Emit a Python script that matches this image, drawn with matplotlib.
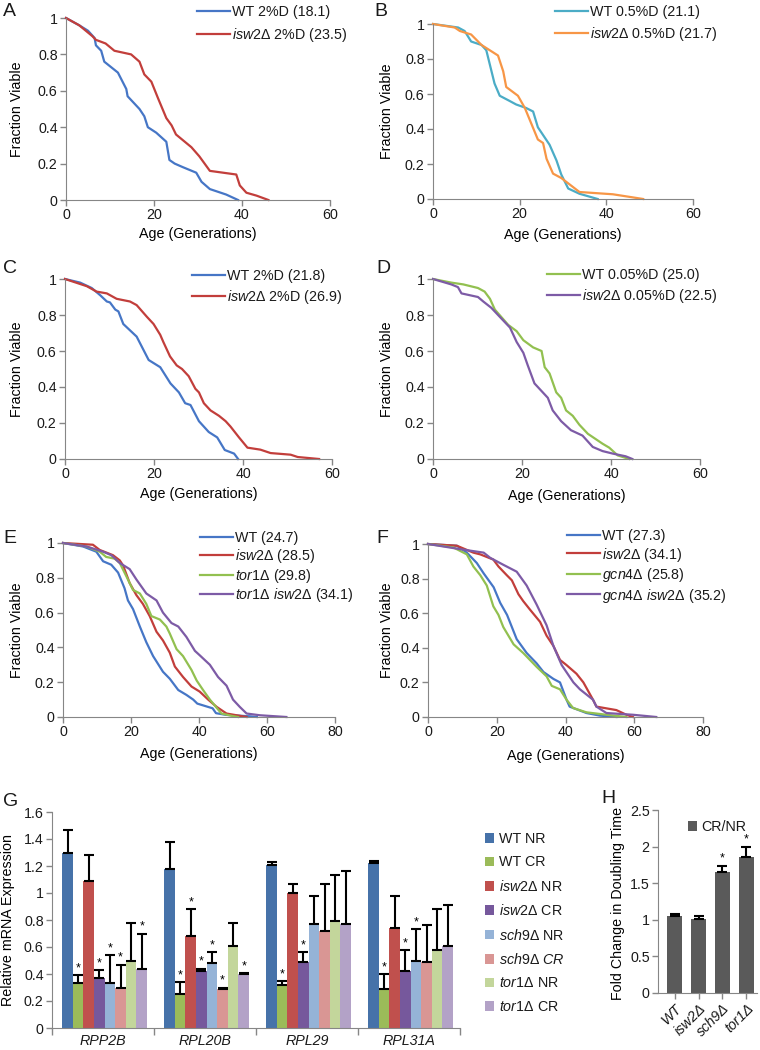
import matplotlib
matplotlib.use('Agg')
import matplotlib.pyplot as plt
from matplotlib.ticker import FuncFormatter

W, H = 760, 1050

# ---- A: 2% glucose ----
a_wt_age = [0, 3, 5, 6.5, 6.8, 8, 8.7, 11.8, 13.7, 14, 16.7, 17.8, 18.6, 20.5, 22.8, 23.5, 24.7, 26.6, 29.6, 30.8, 32.7, 36.4, 39.1]
a_wt_frac = [1, 0.96, 0.93, 0.89, 0.85, 0.82, 0.76, 0.70, 0.61, 0.57, 0.50, 0.46, 0.40, 0.37, 0.32, 0.22, 0.20, 0.18, 0.15, 0.10, 0.06, 0.03, 0]
a_isw2_age = [0, 3, 6, 6.8, 9, 11, 14.8, 16.7, 17.8, 19.4, 20.9, 22.8, 24, 25, 28.5, 30.3, 32.7, 35.7, 38.7, 39.5, 41, 43.3, 46]
a_isw2_frac = [1, 0.96, 0.90, 0.88, 0.86, 0.82, 0.80, 0.76, 0.69, 0.65, 0.56, 0.45, 0.41, 0.36, 0.29, 0.24, 0.16, 0.15, 0.14, 0.08, 0.04, 0.024, 0]

# ---- B: 0.5% glucose ----
b_wt_age = [0, 5.8, 7.3, 8.8, 11.2, 12.3, 13.1, 14.2, 15.4, 17.7, 19.2, 21.5, 23.1, 24.2, 26.9, 28.5, 29.6, 31.2, 33.8, 38]
b_wt_frac = [1, 0.98, 0.96, 0.90, 0.88, 0.85, 0.77, 0.66, 0.59, 0.56, 0.54, 0.52, 0.50, 0.41, 0.31, 0.22, 0.14, 0.06, 0.03, 0]
b_isw2_age = [0, 5, 6.2, 8.8, 10, 11.2, 15, 16.2, 16.9, 19.6, 21.2, 22.7, 24.2, 25.4, 26.2, 27.7, 29.6, 33.8, 41.5, 48.5]
b_isw2_frac = [1, 0.98, 0.96, 0.94, 0.91, 0.88, 0.82, 0.73, 0.64, 0.59, 0.52, 0.43, 0.34, 0.32, 0.23, 0.145, 0.12, 0.04, 0.027, 0]

# ---- C: 2% glucose (repeat) ----
c_wt_age = [0, 3.4, 6, 7.9, 9.4, 10.1, 11.3, 12, 13.1, 16.1, 18.8, 21.4, 23.7, 25.6, 27, 28.2, 30.1, 32.3, 34.2, 35.9, 38, 38.9]
c_wt_frac = [1, 0.98, 0.95, 0.91, 0.875, 0.87, 0.83, 0.82, 0.75, 0.68, 0.55, 0.51, 0.42, 0.37, 0.31, 0.30, 0.21, 0.15, 0.12, 0.05, 0.03, 0]
c_isw2_age = [0, 4.9, 7.1, 9.4, 11.6, 14.6, 16.1, 18.4, 19.9, 21.4, 22.1, 23.6, 25.1, 26.3, 27.8, 29.3, 30.1, 31.2, 32.7, 34.6,
              36.1, 37.2, 39.1, 41, 43.9, 46.2, 50.7, 52.3, 57.1]
c_isw2_frac = [1, 0.96, 0.93, 0.92, 0.89, 0.875, 0.855, 0.79, 0.75, 0.69, 0.65, 0.57, 0.52, 0.50, 0.46, 0.39, 0.37, 0.31, 0.27, 0.24,
               0.21, 0.18, 0.12, 0.063, 0.052, 0.033, 0.024, 0.011, 0]

# ---- D: 0.05% glucose ----
d_wt_age = [0, 4.1, 6.8, 10.1, 11.6, 12.8, 13.9, 16.9, 18.8, 20.3, 22.5, 24.4, 25.1, 26.2, 27.7, 28.8, 29.9, 31.4, 32.9, 34.8,
            36.6, 38.1, 39.6, 41.5, 44.1]
d_wt_frac = [1, 0.98, 0.97, 0.95, 0.93, 0.89, 0.83, 0.745, 0.71, 0.66, 0.62, 0.60, 0.51, 0.475, 0.37, 0.34, 0.27, 0.24, 0.19, 0.14,
             0.11, 0.085, 0.063, 0.02, 0]
d_isw2_age = [0, 4.1, 5.6, 6.4, 10.1, 11.3, 13.1, 15, 17.3, 18.8, 20.3, 21.3, 22.8, 24.3, 25.8, 26.9, 28.8, 31, 33.6, 35.9,
              38.1, 40.4, 43.3, 44.8]
d_isw2_frac = [1, 0.97, 0.955, 0.92, 0.90, 0.875, 0.84, 0.79, 0.73, 0.65, 0.59, 0.52, 0.42, 0.38, 0.34, 0.27, 0.21, 0.16, 0.13, 0.067,
               0.044, 0.03, 0.015, 0]

# ---- E: tor1 ----
e_wt_age = [0, 5.9, 9.8, 11.8, 14.2, 16.2, 18.1, 19.1, 20.6, 22.6, 24.5, 26.5, 29.4, 31.4, 33.9, 36.3, 38.3, 39.5, 44, 45, 48, 55, 57]
e_wt_frac = [1, 0.98, 0.95, 0.895, 0.875, 0.83, 0.74, 0.67, 0.62, 0.52, 0.43, 0.35, 0.26, 0.22, 0.155, 0.127, 0.10, 0.077, 0.05, 0.022, 0.012, 0.004, 0]
e_isw2_age = [0, 8.8, 10.8, 14.7, 16.7, 17.7, 19.6, 21.6, 23.5, 25.5, 27.5, 29.4, 31.4, 32.9, 35.3, 37.8, 40.2, 42.7, 45.2, 48.1, 54]
e_isw2_frac = [1, 0.99, 0.96, 0.93, 0.90, 0.87, 0.77, 0.70, 0.65, 0.58, 0.49, 0.44, 0.37, 0.29, 0.23, 0.175, 0.146, 0.10, 0.058, 0.02, 0]
e_tor1_age = [0, 6.9, 10.8, 12.7, 15.2, 16.7, 18.6, 20.6, 22.6, 24.5, 26, 28.5, 30.4, 31.4, 33.4, 35.3, 37.8, 39.3, 41.2, 43.2, 46.6, 50, 51.5]
e_tor1_frac = [1, 0.98, 0.95, 0.92, 0.91, 0.885, 0.81, 0.73, 0.71, 0.65, 0.58, 0.56, 0.52, 0.48, 0.39, 0.35, 0.27, 0.21, 0.155, 0.10, 0.02, 0.005, 0]
e_dbl_age = [0, 6.9, 11.8, 14.2, 16.7, 19.6, 21.6, 24.5, 27.5, 29.4, 31.9, 33.9, 36.3, 38.8, 40.2, 43.2, 45.6, 48.1, 50, 52, 54, 57.9, 65.7]
e_dbl_frac = [1, 0.98, 0.95, 0.93, 0.885, 0.85, 0.79, 0.71, 0.67, 0.60, 0.54, 0.52, 0.46, 0.38, 0.355, 0.30, 0.23, 0.18, 0.10, 0.058, 0.02, 0.01, 0]

# ---- F: gcn4 ----
f_wt_age = [0, 8.4, 11.3, 14.2, 16.2, 19.1, 21, 23, 24.4, 25.8, 28.7, 31.6, 33.6, 36.5, 38.4, 40.3, 41.2, 46.1, 50, 54.8]
f_wt_frac = [1, 0.99, 0.95, 0.89, 0.83, 0.75, 0.66, 0.59, 0.52, 0.45, 0.37, 0.31, 0.26, 0.22, 0.20, 0.10, 0.06, 0.023, 0.008, 0]
f_isw2_age = [0, 8.4, 13.2, 15.2, 19, 20.5, 22.9, 24.4, 26.3, 27.7, 29.7, 32.6, 34.5, 36.5, 38.4, 40.3, 43.2, 45.2, 48, 49, 54.8, 57.7, 59.6]
f_isw2_frac = [1, 0.99, 0.95, 0.94, 0.91, 0.87, 0.82, 0.79, 0.71, 0.67, 0.62, 0.55, 0.47, 0.41, 0.33, 0.30, 0.25, 0.20, 0.10, 0.06, 0.04, 0.013, 0]
f_gcn4_age = [0, 7.4, 11.3, 13.2, 15.2, 17.1, 19, 20.5, 21.9, 24.9, 27.7, 31.6, 34.5, 36, 38.4, 40.3, 42.2, 46.1, 51.9, 57.7]
f_gcn4_frac = [1, 0.98, 0.94, 0.87, 0.82, 0.76, 0.64, 0.59, 0.52, 0.42, 0.37, 0.29, 0.235, 0.18, 0.16, 0.10, 0.052, 0.027, 0.013, 0]
f_dbl_age = [0, 9.4, 16.2, 18.1, 21.9, 25.8, 28.7, 31.6, 34.5, 36.5, 38.9, 42.3, 44.2, 48, 49, 51.9, 59.6, 66.4]
f_dbl_frac = [1, 0.97, 0.95, 0.92, 0.88, 0.84, 0.76, 0.65, 0.53, 0.41, 0.30, 0.20, 0.16, 0.10, 0.06, 0.023, 0.013, 0]

# ---- G: RP gene mRNA, rows = strain/condition, columns = genes ----
genes = ['RPP2B', 'RPL20B', 'RPL29', 'RPL31A']
expr_labels = ['WT NR', 'WT CR', r'$\mathit{isw2}$Δ NR', r'$\mathit{isw2}$Δ CR',
               r'$\mathit{sch9}$Δ NR', r'$\mathit{sch9}$Δ $\mathit{CR}$', r'$\mathit{tor1}$Δ NR', r'$\mathit{tor1}$Δ CR']
expr_vals = [
    [1.30, 1.18, 1.21, 1.22],
    [0.33, 0.25, 0.32, 0.29],
    [1.09, 0.68, 1.00, 0.74],
    [0.37, 0.42, 0.49, 0.42],
    [0.33, 0.48, 0.77, 0.50],
    [0.30, 0.29, 0.72, 0.49],
    [0.50, 0.61, 0.79, 0.58],
    [0.44, 0.40, 0.77, 0.61],
]
expr_err = [
    [0.17, 0.20, 0.02, 0.02],
    [0.06, 0.09, 0.03, 0.11],
    [0.19, 0.20, 0.07, 0.24],
    [0.06, 0.02, 0.07, 0.16],
    [0.21, 0.08, 0.21, 0.23],
    [0.17, 0.01, 0.35, 0.27],
    [0.28, 0.17, 0.34, 0.30],
    [0.26, 0.01, 0.39, 0.30],
]
expr_sig = [
    [0, 0, 0, 0],
    [1, 1, 1, 1],
    [0, 1, 0, 0],
    [1, 1, 1, 1],
    [1, 1, 0, 1],
    [1, 1, 0, 0],
    [0, 0, 0, 0],
    [1, 1, 0, 0],
]

# ---- H: doubling time CR/NR ----
dbl_strains = ['WT', 'isw2Δ', 'sch9Δ', 'tor1Δ']
dbl_fold = [1.05, 1.01, 1.65, 1.86]
dbl_err = [0.03, 0.04, 0.09, 0.14]
dbl_sig = [0, 0, 1, 1]

BLUE, RED = '#4676C6', '#C23E3B'
TEAL, ORANGE = '#4BACC6', '#F79646'
GREEN, PURPLE = '#92C050', '#7D5BA6'
G_COLORS = ['#4672A9', '#9BBB59', '#C0504D', '#76589C', '#95B3D7', '#D99694', '#C3D69B', '#B3A2C7']
AXIS_GREY = '#868686'
FS = 10.3


def apply_excel_style():
    plt.rcParams['font.family'] = ['Liberation Sans', 'DejaVu Sans']
    plt.rcParams['mathtext.fontset'] = 'custom'
    plt.rcParams['mathtext.rm'] = 'Liberation Sans'
    plt.rcParams['mathtext.it'] = 'Liberation Sans:italic'
    plt.rcParams['font.size'] = FS
    plt.rcParams['text.color'] = '#1a1a1a'
    plt.rcParams['xtick.color'] = AXIS_GREY
    plt.rcParams['ytick.color'] = AXIS_GREY
    plt.rcParams['xtick.labelcolor'] = '#1a1a1a'
    plt.rcParams['ytick.labelcolor'] = '#1a1a1a'


def add_axes(fig, left, top, right, bottom):
    return fig.add_axes([left / W, 1 - bottom / H, (right - left) / W, (bottom - top) / H])


def px_to_axes(ax, xp, yp):
    l, b, w, h = ax.get_position().bounds
    return (xp / W - l) / w, ((1 - yp / H) - b) / h


def style_axes(ax):
    ax.spines['top'].set_visible(False)
    ax.spines['right'].set_visible(False)
    ax.spines['left'].set_color(AXIS_GREY)
    ax.spines['bottom'].set_color(AXIS_GREY)
    ax.tick_params(direction='out', length=4, width=1, labelsize=FS, pad=2)
    ax.yaxis.set_major_formatter(FuncFormatter(lambda v, p: f'{v:g}'))


def survival_panel(fig, box, curves, xmax, leg_x, leg_y, leg_gap, xlabel_y, ylabel_x):
    ax = add_axes(fig, *box)
    for age, frac, color, label in curves:
        ax.plot(age, frac, color=color, lw=1.6, label=label, clip_on=False, solid_joinstyle='round')
    ax.set_xlim(0, xmax)
    ax.set_ylim(0, 1)
    ax.set_xticks(range(0, xmax + 1, 20))
    ax.set_yticks([0, 0.2, 0.4, 0.6, 0.8, 1])
    style_axes(ax)
    ax.set_xlabel('Age (Generations)', fontsize=FS)
    ax.set_ylabel('Fraction Viable', fontsize=FS)
    ax.xaxis.set_label_coords(*px_to_axes(ax, (box[0] + box[2]) / 2, xlabel_y - 8))
    ax.yaxis.set_label_coords(*px_to_axes(ax, ylabel_x + 7, (box[1] + box[3]) / 2))
    ax.legend(loc='upper left', bbox_to_anchor=(leg_x / W, 1 - (leg_y - 8) / H),
              bbox_transform=fig.transFigure, frameon=False, borderpad=0, borderaxespad=0,
              handlelength=2.3, handletextpad=0.15, labelspacing=(leg_gap - 16) / 14.3, fontsize=FS)
    return ax


def plot_expression(fig):
    ax = add_axes(fig, 52, 812, 460, 1028)
    n = len(expr_vals)
    width = 0.104
    for i in range(n):
        xs = [g + 0.1 + (i + 0.5) * width for g in range(len(genes))]
        ax.bar(xs, expr_vals[i], width=width, color=G_COLORS[i], edgecolor='none', label=expr_labels[i], zorder=2)
        ax.errorbar(xs, expr_vals[i], yerr=[[0] * len(genes), expr_err[i]], fmt='none',
                    ecolor='black', elinewidth=1.5, capsize=3.6, capthick=1.5, zorder=3)
        for x, v, e, s in zip(xs, expr_vals[i], expr_err[i], expr_sig[i]):
            if s:
                ax.text(x, v + e + 0.005, '*', ha='center', va='bottom', fontsize=9, color='black')
    ax.set_xlim(0, len(genes))
    ax.set_ylim(0, 1.6)
    ax.set_yticks([0, 0.2, 0.4, 0.6, 0.8, 1, 1.2, 1.4, 1.6])
    ax.set_xticks(range(len(genes) + 1))
    ax.set_xticklabels([])
    ax.set_xticks([g + 0.5 for g in range(len(genes))], minor=True)
    ax.set_xticklabels(genes, minor=True, fontstyle='italic', fontsize=FS)
    style_axes(ax)
    ax.tick_params(axis='x', which='minor', length=0, pad=4)
    ax.tick_params(axis='x', which='major', length=5)
    ax.set_ylabel('Relative mRNA Expression', fontsize=FS)
    ax.yaxis.set_label_coords(*px_to_axes(ax, 15, 920))
    ax.legend(loc='upper left', bbox_to_anchor=(485 / W, 1 - (840 - 8) / H),
              bbox_transform=fig.transFigure, frameon=False, borderpad=0, borderaxespad=0,
              handlelength=0.65, handleheight=0.65, handletextpad=0.3,
              labelspacing=(25.4 - 16) / 14.3, fontsize=FS)


def plot_doubling(fig):
    ax = add_axes(fig, 658, 810, 757, 993)
    xs = list(range(len(dbl_strains)))
    ax.bar(xs, dbl_fold, width=0.62, color='#5A5A5A', edgecolor='none', label='CR/NR', zorder=2)
    ax.errorbar(xs, dbl_fold, yerr=[[0] * len(xs), dbl_err], fmt='none', ecolor='black',
                elinewidth=1.5, capsize=3.6, capthick=1.5, zorder=3)
    for x, v, e, s in zip(xs, dbl_fold, dbl_err, dbl_sig):
        if s:
            ax.text(x, v + e + 0.01, '*', ha='center', va='bottom', fontsize=9, color='black')
    ax.set_xlim(-0.7, 3.45)
    ax.set_ylim(0, 2.5)
    ax.set_yticks([0, 0.5, 1, 1.5, 2, 2.5])
    ax.set_xticks(xs)
    ax.set_xticklabels(dbl_strains, rotation=45, ha='right', rotation_mode='anchor',
                       fontstyle='italic', fontsize=FS)
    style_axes(ax)
    ax.set_ylabel('Fold Change in Doubling Time', fontsize=FS)
    ax.yaxis.set_label_coords(*px_to_axes(ax, 625, 903))
    ax.legend(loc='upper left', bbox_to_anchor=(688 / W, 1 - (828 - 8) / H),
              bbox_transform=fig.transFigure, frameon=False, borderpad=0, borderaxespad=0,
              handlelength=0.65, handleheight=0.65, handletextpad=0.3, fontsize=FS)


apply_excel_style()
fig = plt.figure(figsize=(W / 100, H / 100), dpi=100)

survival_panel(fig, (66, 18, 330, 200),
               [(a_wt_age, a_wt_frac, BLUE, 'WT 2%D (18.1)'),
                (a_isw2_age, a_isw2_frac, RED, r'$\mathit{isw2}$Δ 2%D (23.5)')],
               60, 197, 13, 23, 235, 17)
survival_panel(fig, (433, 24, 693, 199),
               [(b_wt_age, b_wt_frac, TEAL, 'WT 0.5%D (21.1)'),
                (b_isw2_age, b_isw2_frac, ORANGE, r'$\mathit{isw2}$Δ 0.5%D (21.7)')],
               60, 555, 13, 22, 236, 387)
survival_panel(fig, (65, 279, 332, 459),
               [(c_wt_age, c_wt_frac, BLUE, 'WT 2%D (21.8)'),
                (c_isw2_age, c_isw2_frac, RED, r'$\mathit{isw2}$Δ 2%D (26.9)')],
               60, 192, 277, 21, 495, 17)
survival_panel(fig, (433, 279, 700, 459),
               [(d_wt_age, d_wt_frac, GREEN, 'WT 0.05%D (25.0)'),
                (d_isw2_age, d_isw2_frac, PURPLE, r'$\mathit{isw2}$Δ 0.05%D (22.5)')],
               60, 547, 276, 21, 497, 387)
survival_panel(fig, (63, 543, 335, 717),
               [(e_wt_age, e_wt_frac, BLUE, 'WT (24.7)'),
                (e_isw2_age, e_isw2_frac, RED, r'$\mathit{isw2}$Δ (28.5)'),
                (e_tor1_age, e_tor1_frac, GREEN, r'$\mathit{tor1}$Δ (29.8)'),
                (e_dbl_age, e_dbl_frac, PURPLE, r'$\mathit{tor1}$Δ $\mathit{isw2}$Δ (34.1)')],
               80, 200, 539, 17.8, 755, 17)
survival_panel(fig, (428, 544, 703, 717),
               [(f_wt_age, f_wt_frac, BLUE, 'WT (27.3)'),
                (f_isw2_age, f_isw2_frac, RED, r'$\mathit{isw2}$Δ (34.1)'),
                (f_gcn4_age, f_gcn4_frac, GREEN, r'$\mathit{gcn4}$Δ (25.8)'),
                (f_dbl_age, f_dbl_frac, PURPLE, r'$\mathit{gcn4}$Δ $\mathit{isw2}$Δ (35.2)')],
               80, 567, 537, 18.5, 757, 387)

plot_expression(fig)
plot_doubling(fig)

# Panel letters
for letter, xp, yp in [('A', 3, 3), ('B', 374, 3), ('C', 3, 260), ('D', 376, 260), ('E', 3, 530),
                       ('F', 376, 530), ('G', 3, 793), ('H', 601, 790)]:
    fig.text(xp / W, 1 - yp / H, letter, fontsize=14, ha='left', va='top')

fig.savefig('out.png', dpi=100)
plt.close(fig)
